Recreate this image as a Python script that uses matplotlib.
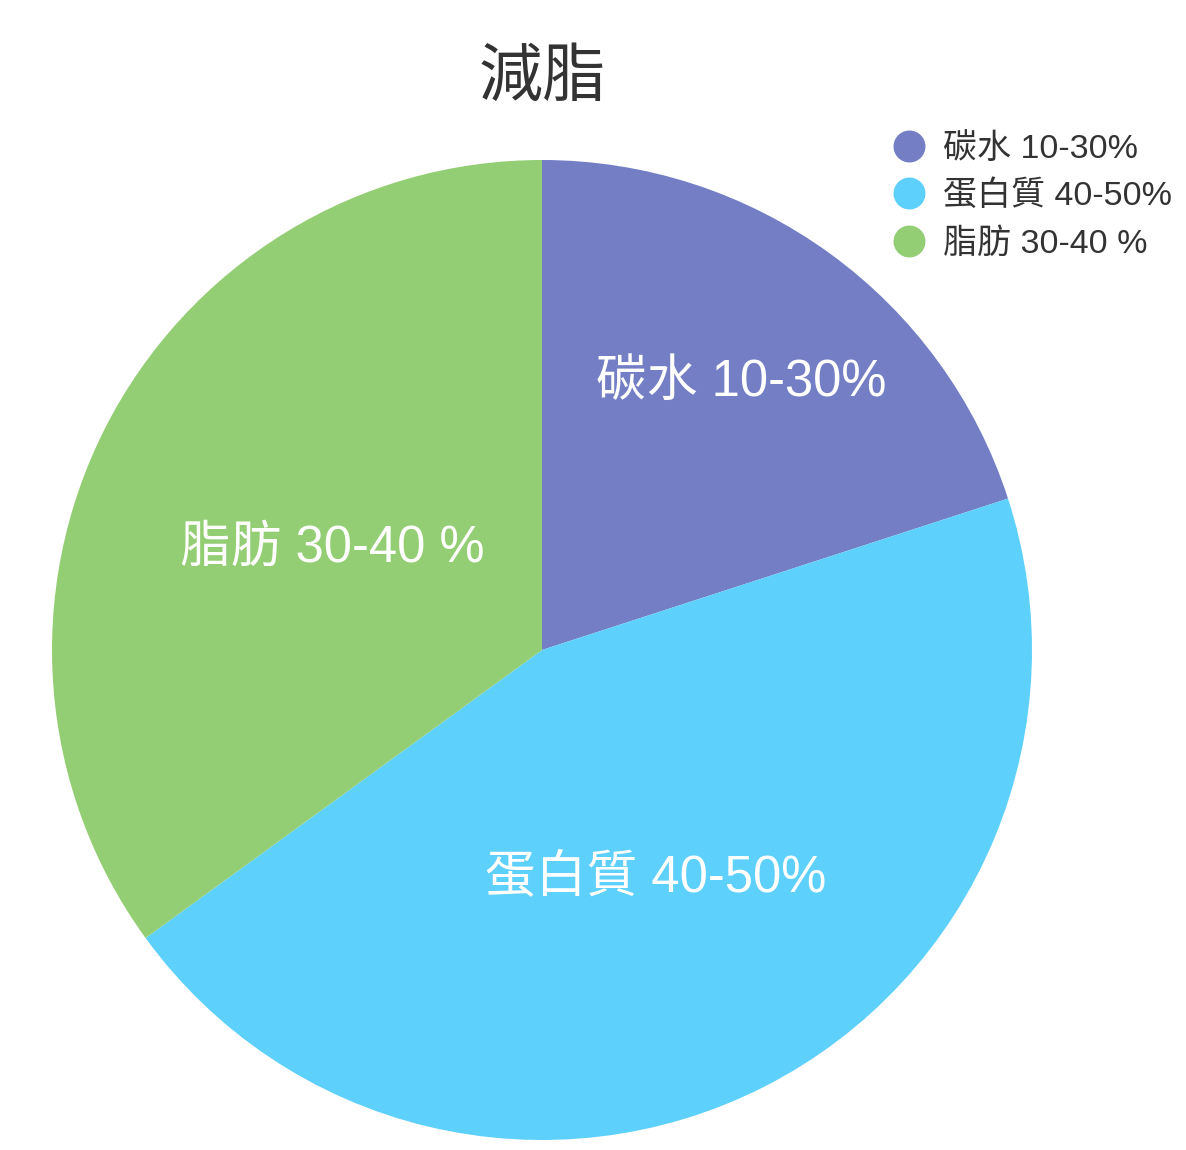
import numpy as np
import matplotlib
matplotlib.use("Agg")
import matplotlib.pyplot as plt
from matplotlib.lines import Line2D

# latin glyphs from Liberation Sans, CJK glyphs fall back to Noto Sans CJK TC
plt.rcParams['font.family'] = ['Liberation Sans', 'Noto Sans CJK TC', 'DejaVu Sans']

# data
title = "減脂"
labels = ["碳水 10-30%", "蛋白質 40-50%", "脂肪 30-40 %"]
values = [20, 45, 35]
colors = ["#737EC5", "#5DD0FB", "#94CE74"]
label_r = [0.69, 0.51, 0.48]   # radial position of the in-slice labels

fig = plt.figure(figsize=(11.86, 11.5), dpi=100)
# pie: centre ~ (542,650) px, radius ~490 px
ax = fig.add_axes([52/1186, 10/1150, 980/1186, 980/1150])
wedges, _ = ax.pie(values, colors=colors, startangle=90, counterclock=False,
                   radius=1.0, wedgeprops=dict(linewidth=0))
ax.set_xlim(-1, 1)
ax.set_ylim(-1, 1)
ax.set_aspect('equal')
ax.axis('off')

for w, lab, r in zip(wedges, labels, label_r):
    ang = np.deg2rad((w.theta1 + w.theta2) / 2.)
    ax.annotate(lab, (r*np.cos(ang), r*np.sin(ang)), xytext=(0, -4),
                textcoords='offset points', color='white', fontsize=36.5,
                ha='center', va='center')

fig.text(542/1186, 1 - 79/1150, title, fontsize=46, color='#333333',
         ha='center', va='center')

handles = [Line2D([], [], marker='o', linestyle='None', markersize=22,
                  markerfacecolor=c, markeredgecolor=c) for c in colors]
fig.legend(handles, labels, loc='upper left', bbox_to_anchor=(875/1186, 1 - 119/1150),
           frameon=False, fontsize=24.5, labelcolor='#333333', handletextpad=0.4,
           labelspacing=0.47, borderaxespad=0, handlelength=1.2)

plt.savefig('out.png', dpi=100)
